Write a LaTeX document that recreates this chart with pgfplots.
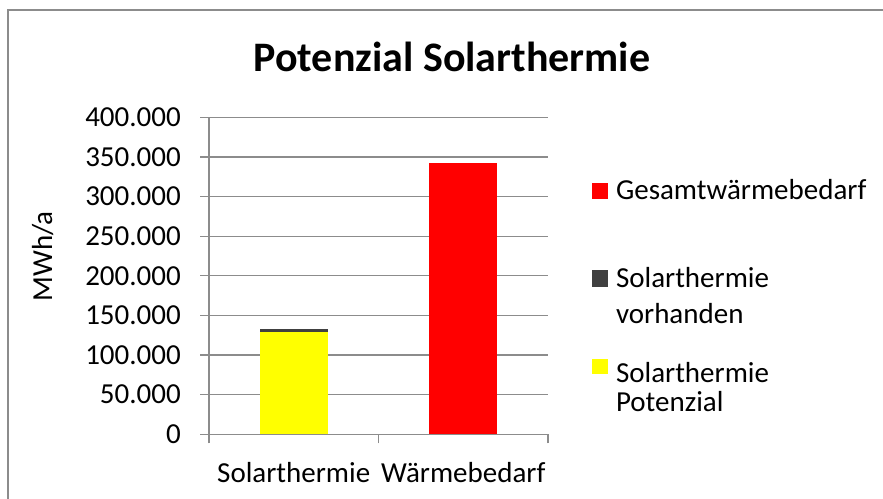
\documentclass[border=0pt]{standalone}
\usepackage{fontspec}
\setmainfont{Carlito}
\usepackage{pgfplots}
\pgfplotsset{compat=1.18}
\definecolor{gridgray}{HTML}{8C8C8C}
\definecolor{barred}{HTML}{FF0000}
\definecolor{baryellow}{HTML}{FFFF00}
\definecolor{bardark}{HTML}{404040}
\newcommand{\lfont}{\fontsize{29bp}{36bp}\selectfont}
\begin{document}
\begin{tikzpicture}[x=1bp,y=1bp]
\path[use as bounding box] (0,0) rectangle (883,-499);
\draw[gridgray, line width=1.3bp] (8,-499) -- (8,-10) -- (883,-10);
\begin{axis}[
  at={(209bp,-434.3bp)}, anchor=south west,
  scale only axis, width=339bp, height=317bp,
  ybar stacked, bar width=0.4,
  xmin=-0.5, xmax=1.5, ymin=0, ymax=400000,
  ytick={0,50000,...,400000},
  scaled y ticks=false,
  /pgf/number format/.cd, fixed, precision=0, 1000 sep={.}, assume math mode=true,
  /pgfplots/.cd,
  axis x line*=bottom, axis y line*=left,
  axis line style={gridgray, line width=1.3bp},
  ymajorgrids, grid style={gridgray, line width=1.3bp},
  tick style={gridgray, line width=1.3bp},
  tick align=outside, major tick length=9bp,
  xtick={-0.5,0.5,1.5}, xticklabels={},
  extra x ticks={0,1},
  extra x tick labels={Solarthermie,Wärmebedarf},
  extra x tick style={major tick length=0pt, xmajorgrids=false,
    xticklabel style={anchor=base, inner sep=0pt, yshift=-47.7bp}},
  ticklabel style={font=\lfont},
  yticklabel style={anchor=east, inner sep=0pt, xshift=-19bp},
  ylabel={MWh/a},
  ylabel style={font=\lfont, at={(axis description cs:-0.4631,0.7044)}, anchor=base east, inner sep=0pt},
  title={Potenzial Solarthermie},
  title style={font=\bfseries\fontsize{42bp}{50bp}\selectfont, at={(axis description cs:0.7168,1.127)}, anchor=base, inner sep=0pt},
  legend style={at={(axis description cs:1.1298,0.8054)}, anchor=north west,
    draw=none, fill=none, inner sep=0pt, outer sep=0pt, row sep=0pt, column sep=8bp,
    font=\lfont, nodes={inner sep=0pt, outer sep=0pt}, cells={anchor=base west}},
]
\addplot[fill=baryellow, draw=none, forget plot] coordinates {(0,129500) (1,0)};
\addplot[fill=bardark, draw=none, forget plot] coordinates {(0,3700) (1,0)};
\addplot[fill=barred, draw=none, forget plot] coordinates {(0,0) (1,342000)};
\addlegendimage{legend image code/.code={\path[draw=none,fill=none] (0bp,-48bp) rectangle (16bp,20bp);\fill[barred,draw=none] (0bp,0.5bp) rectangle (16bp,16.5bp);}}
\addlegendentry{Gesamtwärmebedarf}
\addlegendimage{legend image code/.code={\path[draw=none,fill=none] (0bp,-70bp) rectangle (16bp,40bp);\fill[bardark,draw=none] (0bp,0.5bp) rectangle (16bp,17bp);}}
\addlegendentry{\begin{tabular}[t]{@{}l@{}}Solarthermie\\vorhanden\end{tabular}}
\addlegendimage{legend image code/.code={\path[draw=none,fill=none] (0bp,-46bp) rectangle (16bp,24bp);\fill[baryellow,draw=none] (0bp,8bp) rectangle (16bp,23bp);}}
\addlegendentry{\begin{tabular}[t]{@{}l@{}}Solarthermie\\[-7bp]Potenzial\end{tabular}}
\end{axis}
\end{tikzpicture}
\end{document}
